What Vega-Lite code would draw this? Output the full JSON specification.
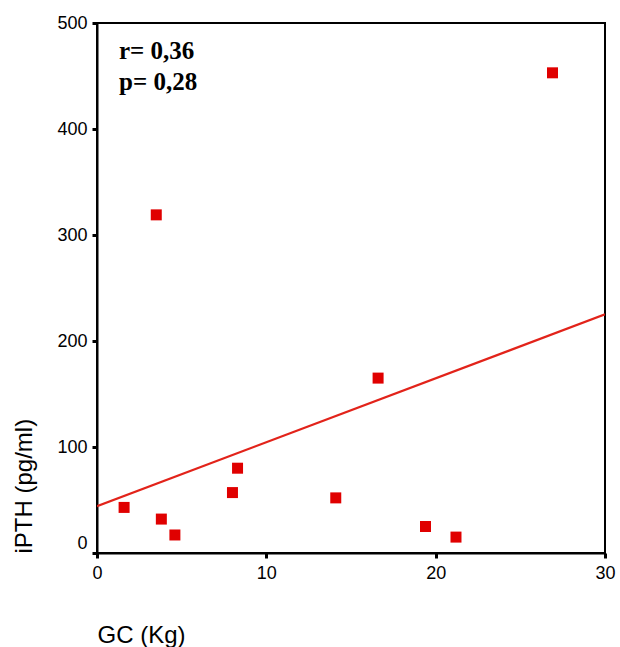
{
  "$schema": "https://vega.github.io/schema/vega-lite/v6.json",
  "width": 508,
  "height": 530,
  "autosize": {"type": "none"},
  "padding": {"left": 97, "top": 23, "right": 15, "bottom": 94},
  "background": "white",
  "config": {
    "view": {"stroke": "black", "strokeWidth": 2},
    "axis": {
      "domainColor": "black",
      "domainWidth": 2,
      "tickColor": "black",
      "tickWidth": 3,
      "tickSize": 5,
      "grid": false,
      "labelFlush": false,
      "labelFont": "Liberation Sans",
      "labelFontSize": 18,
      "labelColor": "black",
      "titleFont": "Liberation Sans",
      "titleFontSize": 24,
      "titleFontWeight": "normal",
      "titleColor": "black"
    }
  },
  "datasets": {
    "pts": [
      {"GC": 1.6, "PTH": 43},
      {"GC": 3.8, "PTH": 32},
      {"GC": 4.6, "PTH": 17},
      {"GC": 8.0, "PTH": 57},
      {"GC": 8.3, "PTH": 80},
      {"GC": 14.1, "PTH": 52},
      {"GC": 19.4, "PTH": 25},
      {"GC": 21.2, "PTH": 15},
      {"GC": 16.6, "PTH": 165},
      {"GC": 26.9, "PTH": 453},
      {"GC": 3.5, "PTH": 319}
    ],
    "notes": [
      {"GC": 1.3, "PTH": 466, "label": "r= 0,36"},
      {"GC": 1.3, "PTH": 437, "label": "p= 0,28"}
    ]
  },
  "layer": [
    {
      "data": {"name": "pts"},
      "transform": [{"regression": "PTH", "on": "GC", "extent": [0, 30]}],
      "mark": {"type": "line", "color": "#e2231a", "strokeWidth": 2.2, "clip": true},
      "encoding": {
        "x": {
          "field": "GC", "type": "quantitative",
          "scale": {"domain": [0, 30], "nice": false, "zero": false},
          "axis": {
            "values": [0, 10, 20, 30],
            "labelPadding": 6,
            "title": "GC (Kg)",
            "titleAnchor": "start",
            "titleAlign": "left",
            "titleBaseline": "alphabetic",
            "titleX": 0,
            "titleY": 89
          }
        },
        "y": {
          "field": "PTH", "type": "quantitative",
          "scale": {"domain": [0, 500], "nice": false, "zero": false},
          "axis": {
            "values": [0, 100, 200, 300, 400, 500],
            "labelPadding": 5,
            "labelOffset": {"condition": {"test": "datum.value === 0", "value": -10}, "value": 0},
            "title": "iPTH (pg/ml)",
            "titleAngle": -90,
            "titleAlign": "left",
            "titleBaseline": "alphabetic",
            "titleX": -66,
            "titleY": 530
          }
        }
      }
    },
    {
      "data": {"name": "pts"},
      "mark": {"type": "square", "size": 121, "color": "#e00000", "opacity": 1, "filled": true},
      "encoding": {
        "x": {"field": "GC", "type": "quantitative"},
        "y": {"field": "PTH", "type": "quantitative"}
      }
    },
    {
      "data": {"name": "notes"},
      "mark": {"type": "text", "font": "Liberation Serif", "fontWeight": "bold", "fontSize": 25, "align": "left", "baseline": "alphabetic", "color": "black"},
      "encoding": {
        "x": {"field": "GC", "type": "quantitative"},
        "y": {"field": "PTH", "type": "quantitative"},
        "text": {"field": "label"}
      }
    }
  ]
}
